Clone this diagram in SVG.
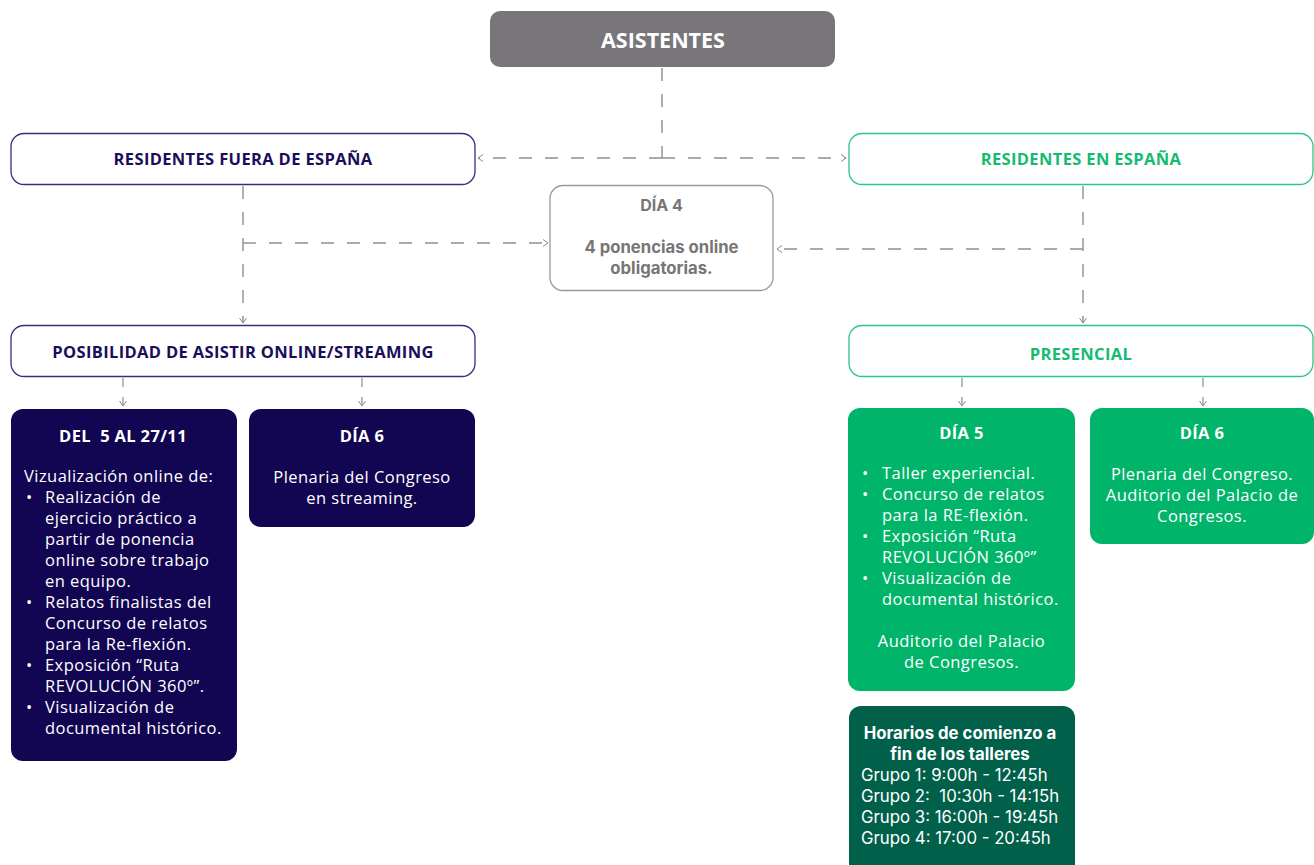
<svg xmlns="http://www.w3.org/2000/svg" width="1314" height="865" viewBox="0 0 1314 865">
<defs>
<marker id="arr" markerWidth="10" markerHeight="10" refX="6" refY="4" orient="auto" markerUnits="userSpaceOnUse">
<path d="M1,0.5 L6,4 L1,7.5" fill="none" stroke="#8a8a8a" stroke-width="1"/>
</marker>
</defs>
<style>
.dash{fill:none;stroke:#8e8e8e;stroke-width:1.4;stroke-dasharray:13 13}
.solid{fill:none;stroke:#8e8e8e;stroke-width:1.2}
.ra{font-family:"Open Sans","Lato",sans-serif}
.in{font-family:"Inter","Noto Sans",sans-serif}
.b{font-weight:700}
.c{text-anchor:middle}
.navyT{fill:#1a0e5c}
.greenT{fill:#14bb72}
.white{fill:#ffffff}
.grayT{fill:#767676}
.body{font-size:16.5px;letter-spacing:0.45px}
.hd{font-size:16.5px;letter-spacing:0.35px}
</style>
<rect width="1314" height="865" fill="#ffffff"/>
<g id="connectors">
<path class="dash" d="M662,68 V158"/>
<path class="dash" d="M662,158 H478" marker-end="url(#arr)"/>
<path class="dash" d="M662,158 H846" marker-end="url(#arr)"/>
<path class="dash" d="M243,186 V323" marker-end="url(#arr)"/>
<path class="dash" d="M243,243 H548" marker-end="url(#arr)"/>
<path class="dash" d="M1083,186 V323" marker-end="url(#arr)"/>
<path class="dash" d="M1083,249 H777" marker-end="url(#arr)"/>
<path class="solid" d="M123,378 V406" marker-end="url(#arr)" stroke-dasharray="9 10"/>
<path class="solid" d="M362,378 V406" marker-end="url(#arr)" stroke-dasharray="9 10"/>
<path class="solid" d="M962,378 V406" marker-end="url(#arr)" stroke-dasharray="9 10"/>
<path class="solid" d="M1203,378 V406" marker-end="url(#arr)" stroke-dasharray="9 10"/>
</g>
<g id="asistentes">
<rect x="490" y="11" width="345" height="56" rx="10" fill="#78767b"/>
<text x="663" y="47.5" class="ra b c white" font-size="21.5">ASISTENTES</text>
</g>
<g id="fuera">
<rect x="11" y="133.5" width="464" height="51" rx="13" fill="#fff" stroke="#34307a" stroke-width="1.3"/>
<text x="243" y="165" class="ra b c navyT hd">RESIDENTES FUERA DE ESPAÑA</text>
</g>
<g id="espana">
<rect x="849" y="133.5" width="464" height="51" rx="13" fill="#fff" stroke="#2fc583" stroke-width="1.3"/>
<text x="1081" y="165" class="ra b c greenT hd">RESIDENTES EN ESPAÑA</text>
</g>
<g id="dia4">
<rect x="550" y="185.5" width="223" height="105" rx="13" fill="#fff" stroke="#999" stroke-width="1.3"/>
<text x="661.5" y="211" class="in b c grayT" font-size="16">DÍA 4</text>
<text x="661.5" y="253" class="in b c grayT" font-size="16.7">4 ponencias online</text>
<text x="661.5" y="274" class="in b c grayT" font-size="16.7">obligatorias.</text>
</g>
<g id="online">
<rect x="11" y="325.5" width="464" height="51" rx="13" fill="#fff" stroke="#34307a" stroke-width="1.3"/>
<text x="243" y="358" class="ra b c navyT hd">POSIBILIDAD DE ASISTIR ONLINE/STREAMING</text>
</g>
<g id="presencial">
<rect x="849" y="325.5" width="464" height="51" rx="13" fill="#fff" stroke="#2fc583" stroke-width="1.3"/>
<text x="1081" y="360" class="ra b c greenT hd">PRESENCIAL</text>
</g>
<g id="del5">
<rect x="11" y="409" width="226" height="352" rx="12" fill="#120551"/>
<text x="123" y="442" class="ra b c white hd">DEL &#160;5 AL 27/11</text>
<g class="ra white body">
<text x="24" y="482">Vizualización online de:</text>
<text x="26" y="503">•</text><text x="45" y="503">Realización de</text>
<text x="45" y="524">ejercicio práctico a</text>
<text x="45" y="545">partir de ponencia</text>
<text x="45" y="566">online sobre trabajo</text>
<text x="45" y="587">en equipo.</text>
<text x="26" y="608">•</text><text x="45" y="608">Relatos finalistas del</text>
<text x="45" y="629">Concurso de relatos</text>
<text x="45" y="650">para la Re-flexión.</text>
<text x="26" y="671">•</text><text x="45" y="671">Exposición “Ruta</text>
<text x="45" y="692">REVOLUCIÓN 360º”.</text>
<text x="26" y="713">•</text><text x="45" y="713">Visualización de</text>
<text x="45" y="734">documental histórico.</text>
</g>
</g>
<g id="dia6online">
<rect x="249" y="409" width="226" height="118" rx="12" fill="#120551"/>
<text x="362" y="442" class="ra b c white hd">DÍA 6</text>
<text x="362" y="483" class="ra c white body">Plenaria del Congreso</text>
<text x="362" y="504" class="ra c white body">en streaming.</text>
</g>
<g id="dia5">
<rect x="848" y="408" width="227" height="283" rx="12" fill="#00b46a"/>
<text x="961.5" y="439" class="ra b c white hd">DÍA 5</text>
<g class="ra white body">
<text x="862" y="479">•</text><text x="882" y="479">Taller experiencial.</text>
<text x="862" y="500">•</text><text x="882" y="500">Concurso de relatos</text>
<text x="882" y="521">para la RE-flexión.</text>
<text x="862" y="542">•</text><text x="882" y="542">Exposición “Ruta</text>
<text x="882" y="563">REVOLUCIÓN 360º”</text>
<text x="862" y="584">•</text><text x="882" y="584">Visualización de</text>
<text x="882" y="605">documental histórico.</text>
<text x="961.5" y="647" class="c">Auditorio del Palacio</text>
<text x="961.5" y="668" class="c">de Congresos.</text>
</g>
</g>
<g id="dia6presencial">
<rect x="1090" y="408" width="224" height="136" rx="12" fill="#00b46a"/>
<text x="1202" y="439" class="ra b c white hd">DÍA 6</text>
<text x="1202" y="480" class="ra c white body">Plenaria del Congreso.</text>
<text x="1202" y="501" class="ra c white body">Auditorio del Palacio de</text>
<text x="1202" y="522" class="ra c white body">Congresos.</text>
</g>
<g id="horarios">
<rect x="849" y="706" width="226" height="170" rx="12" fill="#00604a"/>
<text x="960" y="739" class="in b c white" font-size="16.8">Horarios de comienzo a</text>
<text x="960" y="760" class="in b c white" font-size="16.8">fin de los talleres</text>
<g class="in white" font-size="16.8">
<text x="861" y="781">Grupo 1: 9:00h - 12:45h</text>
<text x="861" y="802">Grupo 2: &#160;10:30h - 14:15h</text>
<text x="861" y="823">Grupo 3: 16:00h - 19:45h</text>
<text x="861" y="844">Grupo 4: 17:00 - 20:45h</text>
</g>
</g>
</svg>
